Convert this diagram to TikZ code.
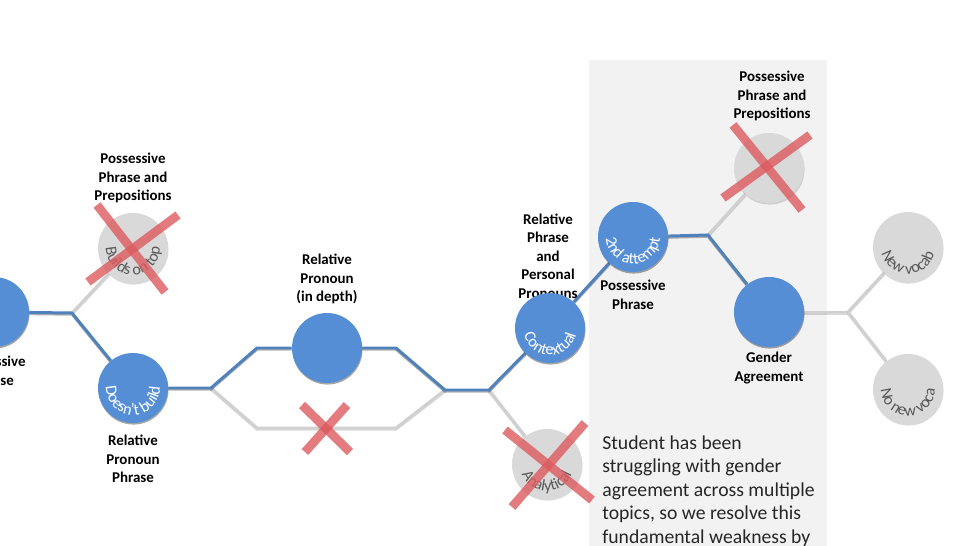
\documentclass[tikz,border=0pt]{standalone}
\usepackage{fontspec}
\setmainfont{Carlito}
\usetikzlibrary{decorations.text,shadows,backgrounds}
\definecolor{nodeblue}{RGB}{85,142,213}
\definecolor{lineblue}{RGB}{79,129,189}
\definecolor{nodegray}{RGB}{217,217,217}
\definecolor{linegray}{RGB}{208,208,208}
\definecolor{crossred}{RGB}{220,90,95}
\definecolor{panelgray}{RGB}{242,242,242}
\definecolor{textgray}{RGB}{89,89,89}

% text bent along the lower half of a circle node
\newcommand{\arclabel}[3]{%
  \path[decorate, decoration={text along path, text align=center, text color=#2,
    text={|\fontsize{9.2}{9.2}\selectfont|#3}}]
    ([shift={(95:0.54cm)}]#1.center) arc[start angle=95, end angle=445, radius=0.54cm];}

\begin{document}
\begin{tikzpicture}[x=0.02cm, y=-0.02cm,
  bluenode/.style={circle, minimum size=1.4cm, inner sep=0pt, fill=nodeblue,
    drop shadow={shadow xshift=0.3pt, shadow yshift=-0.9pt, opacity=0.35, fill=black}},
  graynode/.style={circle, minimum size=1.4cm, inner sep=0pt, fill=nodegray,
    drop shadow={shadow xshift=0.3pt, shadow yshift=-0.9pt, opacity=0.15, fill=black}},
  blueline/.style={draw=lineblue, line width=1.7pt,
    preaction={draw=black, opacity=0.3, line width=1.7pt, transform canvas={yshift=-0.7pt}}},
  grayline/.style={draw=linegray, line width=1.7pt,
    preaction={draw=black, opacity=0.15, line width=1.7pt, transform canvas={yshift=-0.7pt}}},
  lbl/.style={align=center, inner sep=0pt, font=\bfseries\fontsize{8.5}{10.5}\selectfont},
  cross/.style={draw=crossred, line width=5pt, opacity=0.8},
  note/.style={align=left, inner sep=0pt, text=black!85, font=\fontsize{11.2}{13.4}\selectfont}]
\useasboundingbox (0,0) rectangle (955,546);
\clip (0,0) rectangle (955,546);

% labels (drawn first, the circles may cover them)
\node[lbl] (lpp) at (-7,371) {Possessive\\Phrase};
\node[lbl] (lprep1) at (133,178) {Possessive\\Phrase and\\Prepositions};
\node[lbl] (lrel) at (133,459) {Relative\\Pronoun\\Phrase};
\node[lbl] (ldepth) at (327,279) {Relative\\Pronoun\\(in depth)};
\node[lbl] (lpers) at (548,256) {Relative\\Phrase\\and\\Personal\\Pronouns};

% circles
\node[bluenode] (pp) at (-6,312) {};
\node[graynode] (ontop) at (133,248) {};
\node[bluenode] (nobuild) at (133,388) {};
\node[bluenode] (depth) at (327,348) {};
\node[bluenode] (context) at (550,328) {};
\node[graynode] (analyt) at (547,464) {};
\node[bluenode] (second) at (633,237) {};
\node[graynode] (prep2) at (769,168) {};
\node[bluenode] (gender) at (769,312) {};
\node[graynode] (newv) at (908,247) {};
\node[graynode] (nonew) at (908,389) {};

\node[lbl] (lposs) at (633,295) {Possessive\\Phrase};
\node[lbl] (lprep2) at (772,96) {Possessive\\Phrase and\\Prepositions};
\node[lbl] (lgender) at (769,368) {Gender\\Agreement};

\node[note, anchor=north west] (note) at (602,435) {Student has been\\struggling with gender\\agreement across multiple\\topics, so we resolve this\\fundamental weakness by};

% junctions and bends
\coordinate (j1) at (72,313);
\coordinate (j2) at (211,388);
\coordinate (j3) at (445,390);
\coordinate (j4) at (489,390);
\coordinate (j5) at (708,235);
\coordinate (j6) at (848,312);
\coordinate (up1) at (257,348);
\coordinate (up2) at (396,348);
\coordinate (dn1) at (257,428);
\coordinate (dn2) at (396,428);

\begin{scope}[on background layer]
\fill[panelgray] (589,60) rectangle (827,546);
\draw[grayline] (j1) -- (ontop);
\draw[grayline] (j2) -- (dn1) -- (dn2) -- (j3);
\draw[grayline] (j4) -- (analyt);
\draw[grayline] (j5) -- (prep2);
\draw[grayline] (gender) -- (j6);
\draw[grayline] (j6) -- (newv);
\draw[grayline] (j6) -- (nonew);
\draw[blueline] (pp) -- (j1) -- (nobuild);
\draw[blueline] (nobuild) -- (j2) -- (up1) -- (depth);
\draw[blueline] (depth) -- (up2) -- (j3) -- (j4) -- (context);
\draw[blueline] (context) -- (second);
\draw[blueline] (second) -- (j5) -- (gender);
\end{scope}

\arclabel{ontop}{textgray}{Builds on top}
\arclabel{nobuild}{white}{Doesn't build}
\arclabel{context}{white}{Contextual}
\arclabel{analyt}{textgray}{Analytical}
\arclabel{second}{white}{2nd attempt}
\arclabel{newv}{textgray}{New vocab}
\arclabel{nonew}{textgray}{No new voca}

% crossed out options
\draw[cross] (97,205) -- (165,292);
\draw[cross] (88,282) -- (178,215);
\draw[cross] (302,405) -- (350,452);
\draw[cross] (347,405) -- (305,452);
\draw[cross] (505,430) -- (592,500);
\draw[cross] (585,423) -- (512,507);
\draw[cross] (733,125) -- (802,210);
\draw[cross] (810,135) -- (723,198);
\end{tikzpicture}
\end{document}
